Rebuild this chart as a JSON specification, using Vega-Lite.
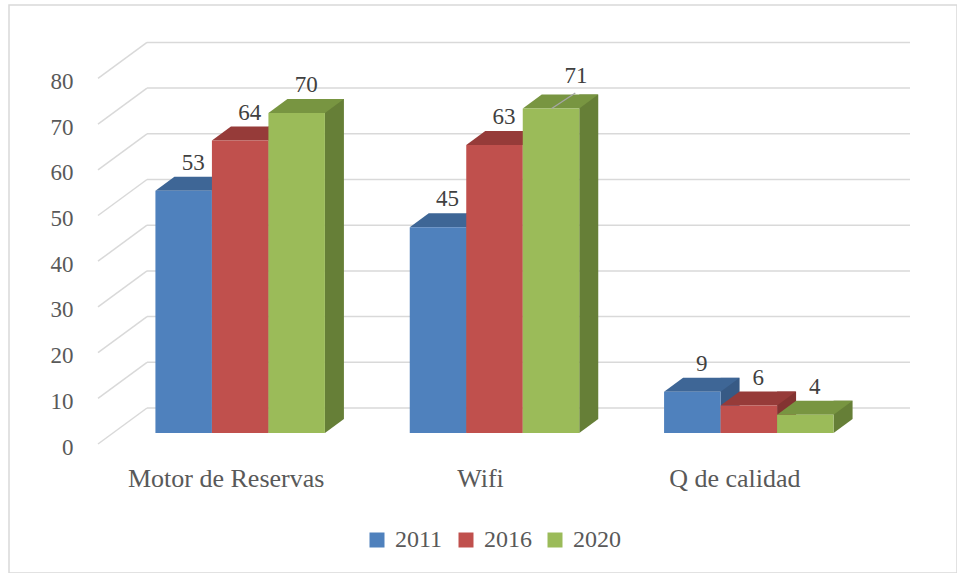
{
  "$schema": "https://vega.github.io/schema/vega-lite/v6.json",
  "width": 948,
  "height": 568,
  "autosize": {"type": "none"},
  "padding": {"left": 9, "top": 5, "right": 0, "bottom": 0},
  "background": "white",
  "config": {
    "view": {"stroke": "#d9d9d9", "strokeWidth": 1.5},
    "font": "Liberation Serif",
    "axis": {"grid": false, "domain": false, "ticks": false, "tickSize": 0, "labelColor": "#595959", "labelFont": "Liberation Serif"}
  },
  "datasets": {
    "bars": [
      {"cat": "Motor de Reservas", "year": 2011, "value": 53},
      {"cat": "Motor de Reservas", "year": 2016, "value": 64},
      {"cat": "Motor de Reservas", "year": 2020, "value": 70},
      {"cat": "Wifi", "year": 2011, "value": 45},
      {"cat": "Wifi", "year": 2016, "value": 63},
      {"cat": "Wifi", "year": 2020, "value": 71},
      {"cat": "Q de calidad", "year": 2011, "value": 9},
      {"cat": "Q de calidad", "year": 2016, "value": 6},
      {"cat": "Q de calidad", "year": 2020, "value": 4}
    ],
    "grid": [{"v": 0}, {"v": 10}, {"v": 20}, {"v": 30}, {"v": 40}, {"v": 50}, {"v": 60}, {"v": 70}, {"v": 80}]
  },
  "layer": [
    {
      "data": {"name": "grid"},
      "mark": {"type": "rule", "color": "#d9d9d9", "strokeWidth": 1.5, "yOffset": -25},
      "encoding": {
        "x": {"value": 138}, "x2": {"value": 901},
        "y": {"field": "v", "type": "quantitative", "title": null,
          "scale": {"domain": [0, 80], "range": [428, 62.4], "nice": false},
          "axis": {"values": [0, 10, 20, 30, 40, 50, 60, 70, 80], "labelFontSize": 23, "labelAlign": "right", "labelBaseline": "alphabetic", "labelPadding": -64, "labelOffset": 21, "labelColor": "#595959", "labelFont": "Liberation Serif"}}
      }
    },
    {
      "data": {"name": "grid"},
      "mark": {"type": "rule", "color": "#d9d9d9", "strokeWidth": 1.5, "yOffset": 11, "y2Offset": -25},
      "encoding": {
        "x": {"value": 89}, "x2": {"value": 138},
        "y": {"field": "v", "type": "quantitative", "title": null},
        "y2": {"field": "v"}
      }
    },

    {
      "data": {"name": "bars"}, "transform": [{"filter": "datum.year == 2011"}],
      "mark": {"type": "bar", "width": 19, "xOffset": -18.75, "yOffset": -14, "y2Offset": -14, "color": "#375a85", "opacity": 1, "strokeWidth": 0},
      "encoding": {
        "x": {"field": "cat", "type": "nominal", "title": null, "sort": null,
          "scale": {"domain": ["Motor de Reservas", "Wifi", "Q de calidad"], "range": [104, 867], "paddingInner": 0.3333, "paddingOuter": 0.1667},
          "axis": {"labelFontSize": 26, "labelAngle": 0, "labelBaseline": "alphabetic", "labelPadding": 0, "offset": -87, "labelOffset": -14, "labelLimit": 0, "labelColor": "#595959", "labelFont": "Liberation Serif"}},
        "y": {"field": "value", "type": "quantitative", "title": null},
        "y2": {"datum": 0}
      }
    },
    {
      "data": {"name": "bars"}, "transform": [{"filter": "datum.year == 2011"}],
      "mark": {"type": "point", "shape": "M28.25,-14L47.25,-14L28.25,0Z", "size": 4, "filled": true, "color": "#375a85", "opacity": 1, "strokeWidth": 0, "xOffset": -56.5},
      "encoding": {"x": {"field": "cat", "type": "nominal", "title": null}, "y": {"datum": 0}}
    },
    {
      "data": {"name": "bars"}, "transform": [{"filter": "datum.year == 2011"}],
      "mark": {"type": "point", "shape": "M-28.25,0L28.25,0L47.25,-14L-9.25,-14Z", "size": 4, "filled": true, "color": "#3e6696", "opacity": 1, "strokeWidth": 0, "xOffset": -56.5},
      "encoding": {"x": {"field": "cat", "type": "nominal", "title": null}, "y": {"field": "value", "type": "quantitative", "title": null}}
    },
    {
      "data": {"name": "bars"}, "transform": [{"filter": "datum.year == 2011"}],
      "mark": {"type": "bar", "width": 56.5, "xOffset": -56.5, "opacity": 1, "strokeWidth": 0},
      "encoding": {
        "x": {"field": "cat", "type": "nominal", "title": null},
        "y": {"field": "value", "type": "quantitative", "title": null},
        "y2": {"datum": 0},
        "color": {"field": "year", "type": "nominal", "title": null,
          "scale": {"domain": [2011, 2016, 2020], "range": ["#4f81bd", "#c0504d", "#9bbb59"]},
          "legend": {"orient": "none", "legendX": 356, "legendY": 523, "direction": "horizontal", "title": null, "symbolType": "square", "symbolSize": 225, "symbolStrokeWidth": 0, "symbolOpacity": 1, "labelFontSize": 24, "labelFont": "Liberation Serif", "labelColor": "#595959", "columnPadding": 11, "labelOffset": 6, "padding": 0}}
      }
    },

    {
      "data": {"name": "bars"}, "transform": [{"filter": "datum.year == 2016"}],
      "mark": {"type": "bar", "width": 19, "xOffset": 37.75, "yOffset": -14, "y2Offset": -14, "color": "#833331", "opacity": 1, "strokeWidth": 0},
      "encoding": {"x": {"field": "cat", "type": "nominal", "title": null}, "y": {"field": "value", "type": "quantitative", "title": null}, "y2": {"datum": 0}}
    },
    {
      "data": {"name": "bars"}, "transform": [{"filter": "datum.year == 2016"}],
      "mark": {"type": "point", "shape": "M28.25,-14L47.25,-14L28.25,0Z", "size": 4, "filled": true, "color": "#833331", "opacity": 1, "strokeWidth": 0, "xOffset": 0},
      "encoding": {"x": {"field": "cat", "type": "nominal", "title": null}, "y": {"datum": 0}}
    },
    {
      "data": {"name": "bars"}, "transform": [{"filter": "datum.year == 2016"}],
      "mark": {"type": "point", "shape": "M-28.25,0L28.25,0L47.25,-14L-9.25,-14Z", "size": 4, "filled": true, "color": "#963b39", "opacity": 1, "strokeWidth": 0, "xOffset": 0},
      "encoding": {"x": {"field": "cat", "type": "nominal", "title": null}, "y": {"field": "value", "type": "quantitative", "title": null}}
    },
    {
      "data": {"name": "bars"}, "transform": [{"filter": "datum.year == 2016"}],
      "mark": {"type": "bar", "width": 56.5, "xOffset": 0, "opacity": 1, "strokeWidth": 0},
      "encoding": {
        "x": {"field": "cat", "type": "nominal", "title": null},
        "y": {"field": "value", "type": "quantitative", "title": null},
        "y2": {"datum": 0},
        "color": {"field": "year", "type": "nominal", "title": null, "scale": {"domain": [2011, 2016, 2020], "range": ["#4f81bd", "#c0504d", "#9bbb59"]}}
      }
    },

    {
      "data": {"name": "bars"}, "transform": [{"filter": "datum.year == 2020"}],
      "mark": {"type": "bar", "width": 19, "xOffset": 94.25, "yOffset": -14, "y2Offset": -14, "color": "#667f37", "opacity": 1, "strokeWidth": 0},
      "encoding": {"x": {"field": "cat", "type": "nominal", "title": null}, "y": {"field": "value", "type": "quantitative", "title": null}, "y2": {"datum": 0}}
    },
    {
      "data": {"name": "bars"}, "transform": [{"filter": "datum.year == 2020"}],
      "mark": {"type": "point", "shape": "M28.25,-14L47.25,-14L28.25,0Z", "size": 4, "filled": true, "color": "#667f37", "opacity": 1, "strokeWidth": 0, "xOffset": 56.5},
      "encoding": {"x": {"field": "cat", "type": "nominal", "title": null}, "y": {"datum": 0}}
    },
    {
      "data": {"name": "bars"}, "transform": [{"filter": "datum.year == 2020"}],
      "mark": {"type": "point", "shape": "M-28.25,0L28.25,0L47.25,-14L-9.25,-14Z", "size": 4, "filled": true, "color": "#789541", "opacity": 1, "strokeWidth": 0, "xOffset": 56.5},
      "encoding": {"x": {"field": "cat", "type": "nominal", "title": null}, "y": {"field": "value", "type": "quantitative", "title": null}}
    },
    {
      "data": {"name": "bars"}, "transform": [{"filter": "datum.year == 2020"}],
      "mark": {"type": "bar", "width": 56.5, "xOffset": 56.5, "opacity": 1, "strokeWidth": 0},
      "encoding": {
        "x": {"field": "cat", "type": "nominal", "title": null},
        "y": {"field": "value", "type": "quantitative", "title": null},
        "y2": {"datum": 0},
        "color": {"field": "year", "type": "nominal", "title": null, "scale": {"domain": [2011, 2016, 2020], "range": ["#4f81bd", "#c0504d", "#9bbb59"]}}
      }
    },

    {
      "data": {"name": "bars"}, "transform": [{"filter": "datum.year == 2011"}],
      "mark": {"type": "text", "xOffset": -56.5, "dx": 9.5, "dy": -21, "baseline": "alphabetic", "align": "center", "fontSize": 23, "font": "Liberation Serif", "color": "#404040"},
      "encoding": {"x": {"field": "cat", "type": "nominal", "title": null}, "y": {"field": "value", "type": "quantitative", "title": null}, "text": {"field": "value", "type": "quantitative"}}
    },
    {
      "data": {"name": "bars"}, "transform": [{"filter": "datum.year == 2016"}],
      "mark": {"type": "text", "xOffset": 0, "dx": 9.5, "dy": -21, "baseline": "alphabetic", "align": "center", "fontSize": 23, "font": "Liberation Serif", "color": "#404040"},
      "encoding": {"x": {"field": "cat", "type": "nominal", "title": null}, "y": {"field": "value", "type": "quantitative", "title": null}, "text": {"field": "value", "type": "quantitative"}}
    },
    {
      "data": {"name": "bars"}, "transform": [{"filter": "datum.year == 2020 && datum.cat != 'Wifi'"}],
      "mark": {"type": "text", "xOffset": 56.5, "dx": 9.5, "dy": -21, "baseline": "alphabetic", "align": "center", "fontSize": 23, "font": "Liberation Serif", "color": "#404040"},
      "encoding": {"x": {"field": "cat", "type": "nominal", "title": null}, "y": {"field": "value", "type": "quantitative", "title": null}, "text": {"field": "value", "type": "quantitative"}}
    },
    {
      "data": {"name": "bars"}, "transform": [{"filter": "datum.year == 2020 && datum.cat == 'Wifi'"}],
      "mark": {"type": "point", "shape": "M0.7,0L24.3,-15.6", "size": 4, "filled": false, "color": "#a6a6a6", "opacity": 1, "strokeWidth": 1.3, "xOffset": 56.5},
      "encoding": {"x": {"field": "cat", "type": "nominal", "title": null}, "y": {"field": "value", "type": "quantitative", "title": null}}
    },
    {
      "data": {"name": "bars"}, "transform": [{"filter": "datum.year == 2020 && datum.cat == 'Wifi'"}],
      "mark": {"type": "text", "xOffset": 56.5, "dx": 25, "dy": -25.5, "baseline": "alphabetic", "align": "center", "fontSize": 23, "font": "Liberation Serif", "color": "#404040"},
      "encoding": {"x": {"field": "cat", "type": "nominal", "title": null}, "y": {"field": "value", "type": "quantitative", "title": null}, "text": {"field": "value", "type": "quantitative"}}
    }
  ]
}
